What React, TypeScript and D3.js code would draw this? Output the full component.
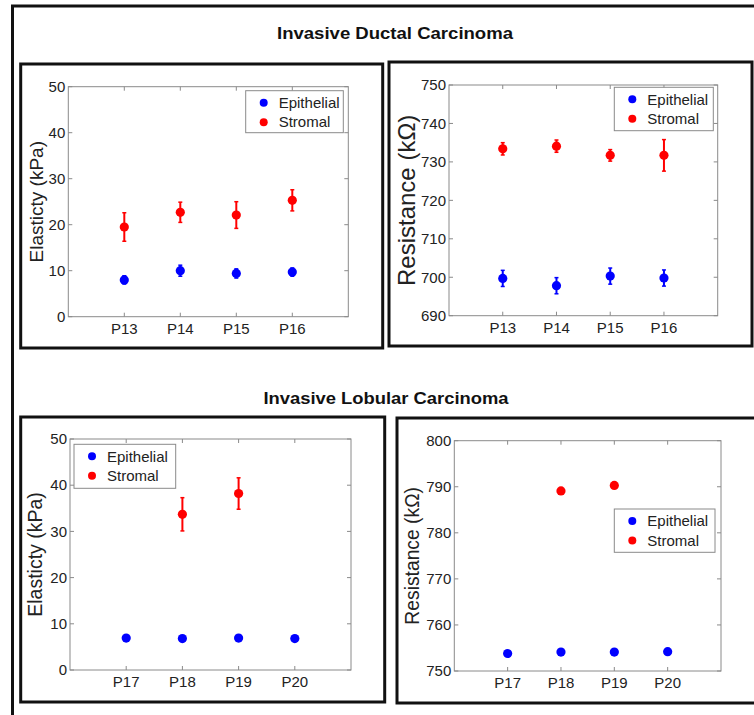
import React from "react";
import * as d3 from "d3";

// ---- data ----
const idcPatients = ["P13", "P14", "P15", "P16"];
const ilcPatients = ["P17", "P18", "P19", "P20"];
const seriesNames = ["Epithelial", "Stromal"];

const idcElastEpi = [8.0, 10.0, 9.4, 9.7];
const idcElastEpiErr = [0.9, 1.2, 1.0, 0.9];
const idcElastStr = [19.5, 22.7, 22.1, 25.3];
const idcElastStrErr = [3.1, 2.2, 2.9, 2.3];

const idcResEpi = [699.7, 697.8, 700.3, 699.8];
const idcResEpiErr = [2.1, 2.1, 2.1, 2.1];
const idcResStr = [733.4, 734.1, 731.7, 731.7];
const idcResStrErr = [1.6, 1.6, 1.5, 4.1];

const ilcElastEpi = [6.9, 6.8, 6.9, 6.8];
const ilcElastEpiErr = [0.5, 0.6, 0.5, 0.5];
const ilcElastStr = [null, 33.7, 38.2, null];
const ilcElastStrErr = [0, 3.6, 3.4, 0];

const ilcResEpi = [753.8, 754.1, 754.1, 754.2];
const ilcResEpiErr = [0.3, 0.3, 0.3, 0.3];
const ilcResStr = [null, 789.1, 790.3, null];
const ilcResStrErr = [0, 0.6, 0.5, 0];

const elastTicks = [0, 10, 20, 30, 40, 50];
const idcResTicks = [690, 700, 710, 720, 730, 740, 750];
const ilcResTicks = [750, 760, 770, 780, 790, 800];

const colors = ["#0000ff", "#ff0000"];
const FONT = "Arial, 'Liberation Sans', Helvetica, sans-serif";

type Series = { values: (number | null)[]; errs: number[] };

interface PanelProps {
  frame: [number, number, number, number]; // x, y, w, h
  plot: [number, number, number, number]; // left, top, right, bottom
  cats: string[];
  yTicks: number[];
  series: Series[];
  yLabel: string;
  yLabelX: number;
  yLabelSize: number;
  legend: [number, number, number, number]; // x, y, w, h
}

const Panel: React.FC<PanelProps> = ({ frame, plot, cats, yTicks, series, yLabel, yLabelX, yLabelSize, legend }) => {
  const [l, t, r, b] = plot;
  const x = d3.scaleLinear().domain([0, cats.length + 1]).range([l, r]);
  const y = d3.scaleLinear().domain([yTicks[0], yTicks[yTicks.length - 1]]).range([b, t]);
  const tk = 4;
  return (
    <g>
      <rect x={frame[0]} y={frame[1]} width={frame[2]} height={frame[3]} fill="white" stroke="#111" strokeWidth={3} />
      <rect x={l} y={t} width={r - l} height={b - t} fill="white" stroke="#8a8a8a" strokeWidth={1} />
      {yTicks.map((v) => (
        <g key={"y" + v}>
          <line x1={l} x2={l + tk} y1={y(v)} y2={y(v)} stroke="#8a8a8a" />
          <line x1={r} x2={r - tk} y1={y(v)} y2={y(v)} stroke="#8a8a8a" />
          <text x={l - 3} y={y(v)} dy="0.35em" textAnchor="end" fontSize={15} fontFamily={FONT} fill="#222">
            {v}
          </text>
        </g>
      ))}
      {cats.map((c, i) => (
        <g key={c}>
          <line x1={x(i + 1)} x2={x(i + 1)} y1={b} y2={b - tk} stroke="#8a8a8a" />
          <line x1={x(i + 1)} x2={x(i + 1)} y1={t} y2={t + tk} stroke="#8a8a8a" />
          <text x={x(i + 1)} y={b + 12} dy="0.35em" textAnchor="middle" fontSize={15} fontFamily={FONT} fill="#222">
            {c}
          </text>
        </g>
      ))}
      <text
        transform={`translate(${yLabelX},${(t + b) / 2}) rotate(-90)`}
        textAnchor="middle"
        dy="0.35em"
        fontSize={yLabelSize}
        fontFamily={FONT}
        fill="#222"
      >
        {yLabel}
      </text>
      {series.map((s, si) =>
        s.values.map((v, i) => {
          if (v == null) return null;
          const cx = x(i + 1);
          const e = s.errs[i];
          return (
            <g key={si + "-" + i} stroke={colors[si]} fill={colors[si]}>
              <line x1={cx} x2={cx} y1={y(v - e)} y2={y(v + e)} strokeWidth={2} />
              <line x1={cx - 2} x2={cx + 2} y1={y(v - e)} y2={y(v - e)} strokeWidth={1.5} />
              <line x1={cx - 2} x2={cx + 2} y1={y(v + e)} y2={y(v + e)} strokeWidth={1.5} />
              <circle cx={cx} cy={y(v)} r={4.6} stroke="none" />
            </g>
          );
        })
      )}
      <rect x={legend[0]} y={legend[1]} width={legend[2]} height={legend[3]} fill="white" stroke="#8a8a8a" />
      {seriesNames.map((n, i) => (
        <g key={n}>
          <circle cx={legend[0] + 18} cy={legend[1] + 12 + i * 19.5} r={4} fill={colors[i]} />
          <text x={legend[0] + 33} y={legend[1] + 12 + i * 19.5} dy="0.35em" fontSize={15} fontFamily={FONT} fill="#222">
            {n}
          </text>
        </g>
      ))}
    </g>
  );
};

export default function App() {
  return (
    <svg width={754} height={715} style={{ position: "absolute", left: 0, top: 0, background: "white" }}>
      <rect x={12.5} y={6} width={800} height={760} fill="white" stroke="#111" strokeWidth={3} />
      <text
        x={395}
        y={33}
        dy="0.35em"
        textAnchor="middle"
        fontSize={16}
        fontWeight="bold"
        fontFamily={FONT}
        fill="#111"
        textLength={236}
        lengthAdjust="spacingAndGlyphs"
      >
        Invasive Ductal Carcinoma
      </text>
      <text
        x={386}
        y={398}
        dy="0.35em"
        textAnchor="middle"
        fontSize={16}
        fontWeight="bold"
        fontFamily={FONT}
        fill="#111"
        textLength={245}
        lengthAdjust="spacingAndGlyphs"
      >
        Invasive Lobular Carcinoma
      </text>
      <Panel
        frame={[20.7, 64, 362, 284]}
        plot={[68.3, 86.7, 348.3, 316.7]}
        cats={idcPatients}
        yTicks={elastTicks}
        series={[
          { values: idcElastEpi, errs: idcElastEpiErr },
          { values: idcElastStr, errs: idcElastStrErr },
        ]}
        yLabel="Elasticty (kPa)"
        yLabelX={36}
        yLabelSize={19}
        legend={[245.7, 90.7, 97.6, 42]}
      />
      <Panel
        frame={[389, 62, 363, 284]}
        plot={[449, 85, 717.7, 315.7]}
        cats={idcPatients}
        yTicks={idcResTicks}
        series={[
          { values: idcResEpi, errs: idcResEpiErr },
          { values: idcResStr, errs: idcResStrErr },
        ]}
        yLabel="Resistance (kΩ)"
        yLabelX={407}
        yLabelSize={24}
        legend={[614.3, 87.3, 99, 43.4]}
      />
      <Panel
        frame={[20.7, 417, 364, 285]}
        plot={[70, 439, 351, 670]}
        cats={ilcPatients}
        yTicks={elastTicks}
        series={[
          { values: ilcElastEpi, errs: ilcElastEpiErr },
          { values: ilcElastStr, errs: ilcElastStrErr },
        ]}
        yLabel="Elasticty (kPa)"
        yLabelX={35}
        yLabelSize={19.5}
        legend={[74, 444.3, 101.7, 44]}
      />
      <Panel
        frame={[397, 418, 380, 285]}
        plot={[454.3, 440.7, 721, 671]}
        cats={ilcPatients}
        yTicks={ilcResTicks}
        series={[
          { values: ilcResEpi, errs: ilcResEpiErr },
          { values: ilcResStr, errs: ilcResStrErr },
        ]}
        yLabel="Resistance (kΩ)"
        yLabelX={412}
        yLabelSize={19.3}
        legend={[614.3, 509, 100.7, 43.3]}
      />
    </svg>
  );
}
